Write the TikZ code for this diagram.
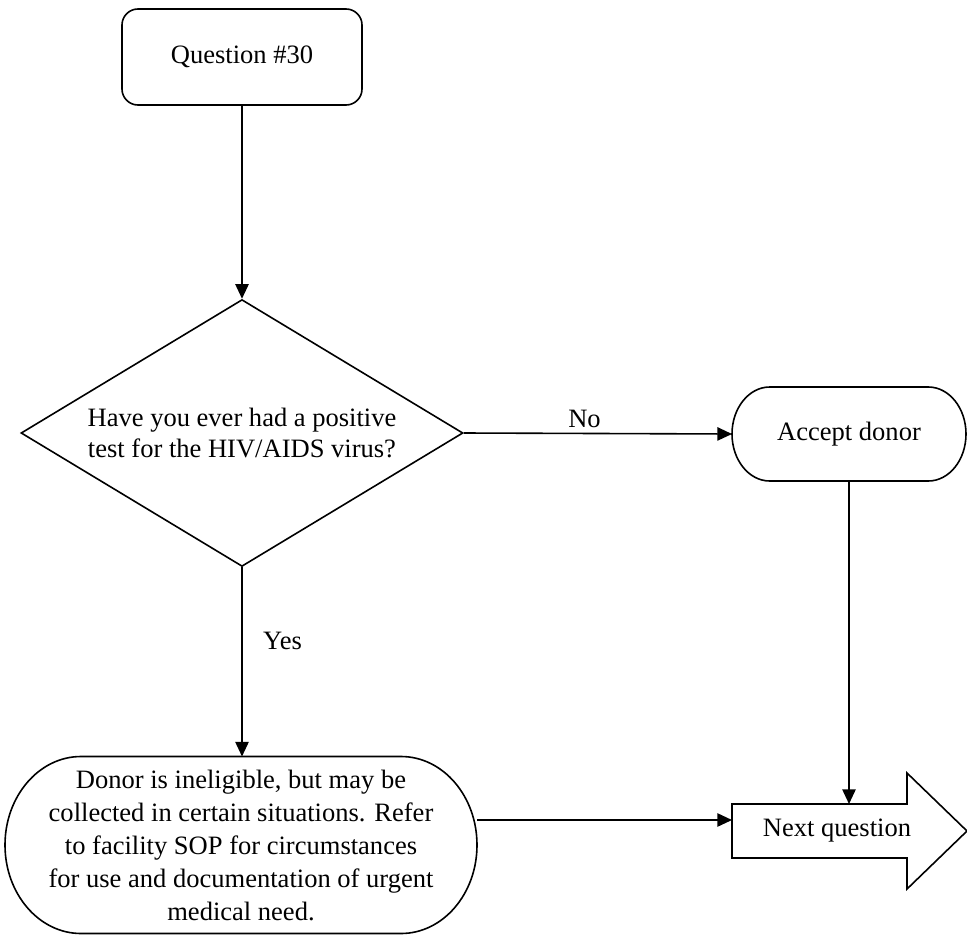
\documentclass[tikz,border=0pt]{standalone}
\usepackage{fontspec}
\setmainfont{Liberation Serif}
\usepackage{tikz}
\usetikzlibrary{calc,
	positioning,
	shapes.geometric,
	arrows.meta}

\begin{document}
\begin{tikzpicture}[x=0.75pt, y=-0.75pt,
	line width=1.2pt,
	txt/.style={font=\fontsize{19.9pt}{23pt}\selectfont, align=center},
	arr/.style={-{Triangle[length=11pt, width=10pt]}},
	procbox/.style={txt, draw, rectangle, rounded corners=12pt, minimum width=180pt, minimum height=72pt},
	decision/.style={txt, draw, diamond, aspect=1.42, inner sep=0pt, minimum width=331.5pt},
	termbox/.style={txt, rectangle, inner sep=0pt, outer sep=0pt}]
	\useasboundingbox (0, 0) rectangle (967, 935);

	\node[procbox] (q30) at (242, 57) {Question \#30};
	\node[decision] (dia) at (242, 433) {Have you ever had a positive\\test for the HIV/AIDS virus?};
	\node[termbox, minimum width=175.5pt, minimum height=70.5pt] (acc) at (849, 434) {Accept donor};
	\node[termbox, minimum width=354pt, minimum height=132.75pt, font=\fontsize{19.9pt}{24.75pt}\selectfont] (donor) at (241, 845) {Donor is ineligible, but may be\\collected in certain situations. Refer\\to facility SOP for circumstances\\for use and documentation of urgent\\medical need.};
	\node[termbox, minimum width=131.25pt, minimum height=40.5pt] (nxt) at (819.5, 831) {};
	\node[txt] (nxtlbl) at (837, 831) {Next question};

	% terminator outlines
	\draw ([xshift=28.3pt]acc.north west) -- ([xshift=-28.3pt]acc.north east)
		arc[start angle=90, end angle=-90, x radius=28.3pt, y radius=35.25pt]
		-- ([xshift=28.3pt]acc.south west)
		arc[start angle=270, end angle=90, x radius=28.3pt, y radius=35.25pt] -- cycle;
	\draw ([xshift=57pt]donor.north west) -- ([xshift=-57pt]donor.north east)
		arc[start angle=90, end angle=-90, x radius=57pt, y radius=66.375pt]
		-- ([xshift=57pt]donor.south west)
		arc[start angle=270, end angle=90, x radius=57pt, y radius=66.375pt] -- cycle;

	% block arrow
	\draw (nxt.north west) -- (nxt.north east) -- ([yshift=23.25pt]nxt.north east)
		-- ([xshift=45pt]nxt.east) -- ([yshift=-23.25pt]nxt.south east)
		-- (nxt.south east) -- (nxt.south west) -- cycle;
	\coordinate (nxtin) at ([yshift=8.25pt]nxt.west);

	\draw[arr] (q30.south) -- (dia.north);
	\draw[arr] (dia.east) -- node[txt, pos=0.45, above] {No} (acc.west);
	\draw[arr] (dia.south) -- node[txt, pos=0.39, right=12pt] {Yes} (dia.south |- donor.north);
	\draw[arr] (acc.south) -- (acc.south |- nxt.north);
	\draw[arr] (donor.east |- nxtin) -- (nxtin);
\end{tikzpicture}
\end{document}
